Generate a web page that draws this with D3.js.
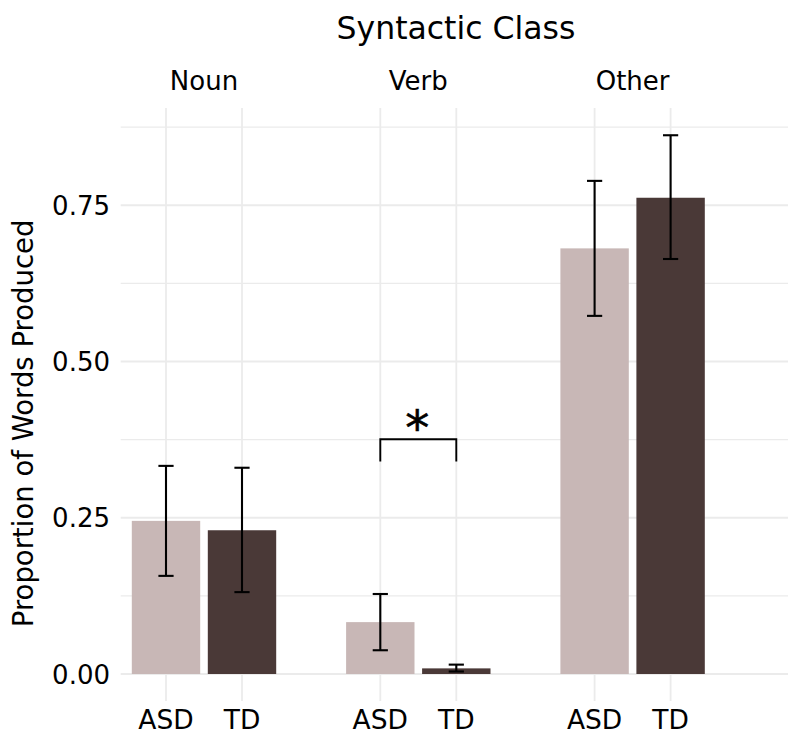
<!DOCTYPE html>
<html>
<head>
<meta charset="utf-8">
<script src="https://cdn.jsdelivr.net/npm/d3@7"></script>
<style>
  html, body { margin: 0; padding: 0; background: #ffffff; }
  svg { display: block; font-family: "DejaVu Sans", Verdana, sans-serif; }
</style>
</head>
<body>
<svg id="chart" width="788" height="734"></svg>
<script>
// ---- data ----
const facets = ["Noun", "Verb", "Other"];
const groups = ["ASD", "TD"];
const asdMean = [0.245, 0.083, 0.681];
const asdLow  = [0.157, 0.038, 0.573];
const asdHigh = [0.333, 0.128, 0.789];
const tdMean  = [0.230, 0.009, 0.762];
const tdLow   = [0.131, 0.004, 0.664];
const tdHigh  = [0.330, 0.015, 0.862];
const yTicks = [0, 0.25, 0.5, 0.75];
const yTickLabels = ["0.00", "0.25", "0.50", "0.75"];
const yMinor = [0.125, 0.375, 0.625, 0.875];
const sigFacet = "Verb";
const sigY = 0.3755, sigDrop = 0.34, sigLabel = "*";
const colors = { ASD: "#c8b7b6", TD: "#4a3937" };

const rows = [];
facets.forEach((f, i) => {
  rows.push({ facet: f, group: "ASD", mean: asdMean[i], low: asdLow[i], high: asdHigh[i] });
  rows.push({ facet: f, group: "TD", mean: tdMean[i], low: tdLow[i], high: tdHigh[i] });
});

// ---- layout ----
const svg = d3.select("#chart");
const panelTop = 108, panelBottom = 701;
const gridLeft = 120.7, gridRight = 788;

const y = d3.scaleLinear().domain([-0.0432, 0.9056]).range([panelBottom, panelTop]);
const fx = d3.scaleBand().domain(facets).range([96.85, 739.75]).padding(0);
const gx = d3.scalePoint().domain(groups).range([-38, 38]);
const unit = 76;
const xPos = (f, g) => fx(f) + fx.bandwidth() / 2 + gx(g);

// grid
const grid = svg.append("g");
grid.selectAll("line.minor").data(yMinor).join("line")
  .attr("x1", gridLeft).attr("x2", gridRight)
  .attr("y1", d => y(d)).attr("y2", d => y(d))
  .attr("stroke", "#ebebeb").attr("stroke-width", 1.3);
grid.selectAll("line.major").data(yTicks).join("line")
  .attr("x1", gridLeft).attr("x2", gridRight)
  .attr("y1", d => y(d)).attr("y2", d => y(d))
  .attr("stroke", "#ebebeb").attr("stroke-width", 1.8);
const xTickData = [];
facets.forEach(f => groups.forEach(g => xTickData.push({ f, g })));
grid.selectAll("line.vx").data(xTickData).join("line")
  .attr("x1", d => xPos(d.f, d.g)).attr("x2", d => xPos(d.f, d.g))
  .attr("y1", panelTop).attr("y2", panelBottom)
  .attr("stroke", "#ebebeb").attr("stroke-width", 1.8);

// bars
const barW = 0.9 * unit;
svg.append("g").selectAll("rect").data(rows).join("rect")
  .attr("x", d => xPos(d.facet, d.group) - barW / 2)
  .attr("width", barW)
  .attr("y", d => y(d.mean))
  .attr("height", d => y(0) - y(d.mean))
  .attr("fill", d => colors[d.group]);

// error bars
const capW = 0.2 * unit;
const eb = svg.append("g").attr("stroke", "#000").attr("stroke-width", 2.1).attr("fill", "none");
rows.forEach(d => {
  const cx = xPos(d.facet, d.group);
  eb.append("line").attr("x1", cx).attr("x2", cx).attr("y1", y(d.low)).attr("y2", y(d.high));
  eb.append("line").attr("x1", cx - capW / 2).attr("x2", cx + capW / 2).attr("y1", y(d.low)).attr("y2", y(d.low));
  eb.append("line").attr("x1", cx - capW / 2).attr("x2", cx + capW / 2).attr("y1", y(d.high)).attr("y2", y(d.high));
});

// significance bracket
const sx1 = xPos(sigFacet, "ASD"), sx2 = xPos(sigFacet, "TD");
svg.append("path")
  .attr("d", d3.line()([[sx1, y(sigDrop)], [sx1, y(sigY)], [sx2, y(sigY)], [sx2, y(sigDrop)]]))
  .attr("fill", "none").attr("stroke", "#000").attr("stroke-width", 1.9);
svg.append("text")
  .attr("x", (sx1 + sx2) / 2 - 1).attr("y", y(sigY) + 6)
  .attr("text-anchor", "middle").attr("font-size", 48).attr("fill", "#000")
  .attr("stroke", "#000").attr("stroke-width", 0.6)
  .text(sigLabel);

// y tick labels
svg.append("g").selectAll("text").data(yTicks).join("text")
  .attr("x", 110).attr("y", d => y(d) + 9.5)
  .attr("text-anchor", "end").attr("font-size", 26).attr("fill", "#000")
  .text((d, i) => yTickLabels[i]);

// x tick labels
svg.append("g").selectAll("text").data(xTickData).join("text")
  .attr("x", d => xPos(d.f, d.g)).attr("y", 729)
  .attr("text-anchor", "middle").attr("font-size", 26.5).attr("fill", "#000")
  .text(d => d.g);

// strip labels
svg.append("g").selectAll("text").data(facets).join("text")
  .attr("x", d => fx(d) + fx.bandwidth() / 2).attr("y", 90)
  .attr("text-anchor", "middle").attr("font-size", 26).attr("fill", "#000")
  .text(d => d);

// title
svg.append("text")
  .attr("x", 456).attr("y", 38.5)
  .attr("text-anchor", "middle").attr("font-size", 31.5).attr("fill", "#000")
  .text("Syntactic Class");

// y axis title
svg.append("text")
  .attr("transform", "translate(33,423.4) rotate(-90)")
  .attr("text-anchor", "middle").attr("font-size", 27.5).attr("fill", "#000")
  .text("Proportion of Words Produced");
</script>
</body>
</html>
